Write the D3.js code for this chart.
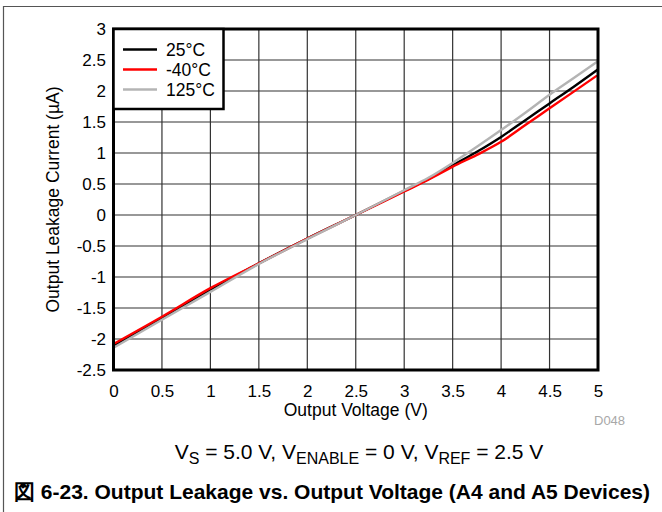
<!DOCTYPE html>
<html>
<head>
<meta charset="utf-8">
<script src="https://cdn.jsdelivr.net/npm/d3@7"></script>
<style>
  body { margin: 0; background: #fff; }
  svg { display: block; font-family: "Liberation Sans", Arial, sans-serif; }
</style>
</head>
<body>
<svg id="chart" width="662" height="512"></svg>
<script>
// Output voltage sweep (V)
const voltage = [0, 0.5, 1.0, 1.5, 2.0, 2.5, 3.0, 3.25, 3.5, 3.75, 4.0, 4.25, 4.5, 4.75, 5.0];
// Output leakage current (µA) per temperature
const leak25 = [-2.11, -1.66, -1.21, -0.78, -0.38, 0.0, 0.39, 0.58, 0.80, 1.02, 1.26, 1.53, 1.80, 2.07, 2.35];
const leakM40 = [-2.08, -1.64, -1.18, -0.78, -0.38, 0.0, 0.38, 0.57, 0.78, 0.97, 1.18, 1.45, 1.72, 1.99, 2.26];
const leak125 = [-2.14, -1.69, -1.24, -0.79, -0.39, 0.0, 0.40, 0.60, 0.84, 1.10, 1.37, 1.65, 1.94, 2.21, 2.48];

const xTicks = [0, 0.5, 1, 1.5, 2, 2.5, 3, 3.5, 4, 4.5, 5];
const yTicks = [-2.5, -2, -1.5, -1, -0.5, 0, 0.5, 1, 1.5, 2, 2.5, 3];

const series = [
  { name: "25°C", values: leak25, color: "#000000" },
  { name: "-40°C", values: leakM40, color: "#ff0000" },
  { name: "125°C", values: leak125, color: "#b4b4b4" }
];
const drawOrder = [0, 1, 2];

const svg = d3.select("#chart");
const plotL = 113.5, plotR = 598, plotT = 29, plotB = 370;

const x = d3.scaleLinear().domain([0, 5]).range([plotL, plotR]);
const y = d3.scaleLinear().domain([-2.5, 3]).range([plotB, plotT]);

// page frame
svg.append("line").attr("x1", 3).attr("x2", 662).attr("y1", 6.5).attr("y2", 6.5)
  .attr("stroke", "#555").attr("stroke-width", 1.2);
svg.append("line").attr("x1", 3.5).attr("x2", 3.5).attr("y1", 6).attr("y2", 512)
  .attr("stroke", "#555").attr("stroke-width", 1.2);

// grid
const grid = svg.append("g");
grid.selectAll("line.v").data(xTicks.slice(1, -1)).join("line")
  .attr("x1", d => x(d)).attr("x2", d => x(d)).attr("y1", plotT).attr("y2", plotB)
  .attr("stroke", "#333").attr("stroke-width", 1.2);
grid.selectAll("line.h").data(yTicks.slice(1, -1)).join("line")
  .attr("x1", plotL).attr("x2", plotR).attr("y1", d => y(d)).attr("y2", d => y(d))
  .attr("stroke", "#333").attr("stroke-width", 1.2);

// axes (labels only; frame drawn separately)
const fmt = d => String(d);
const xAxis = d3.axisBottom(x).tickValues(xTicks).tickSize(0).tickPadding(14.5).tickFormat(fmt);
const gx = svg.append("g").attr("transform", `translate(0,${plotB})`).call(xAxis);
gx.select(".domain").remove();
gx.selectAll("text").attr("font-size", 17).attr("fill", "#000")
  .attr("font-family", "Liberation Sans, Arial, sans-serif");

const yAxis = d3.axisLeft(y).tickValues(yTicks).tickSize(0).tickPadding(7.5).tickFormat(fmt);
const gy = svg.append("g").attr("transform", `translate(${plotL},0)`).call(yAxis);
gy.select(".domain").remove();
gy.selectAll("text").attr("font-size", 17).attr("fill", "#000")
  .attr("font-family", "Liberation Sans, Arial, sans-serif");

// curves
const line = d3.line().x((d, i) => x(voltage[i])).y(d => y(d)).curve(d3.curveMonotoneX);
drawOrder.forEach(k => {
  svg.append("path").datum(series[k].values)
    .attr("d", line).attr("fill", "none")
    .attr("stroke", series[k].color).attr("stroke-width", 2.4);
});

// plot frame
svg.append("rect").attr("x", plotL).attr("y", plotT).attr("width", plotR - plotL).attr("height", plotB - plotT)
  .attr("fill", "none").attr("stroke", "#000").attr("stroke-width", 3);

// legend
const lg = svg.append("g");
lg.append("rect").attr("x", plotL).attr("y", plotT).attr("width", 110).attr("height", 80)
  .attr("fill", "#fff").attr("stroke", "#000").attr("stroke-width", 2.5);
series.forEach((s, i) => {
  const yy = plotT + 20.5 + i * 20;
  lg.append("line").attr("x1", 123).attr("x2", 157).attr("y1", yy).attr("y2", yy)
    .attr("stroke", s.color).attr("stroke-width", 2.6);
  lg.append("text").attr("x", 166).attr("y", yy + 6).attr("font-size", 17.5).text(s.name);
});

// axis titles
svg.append("text").attr("x", x(2.5)).attr("y", 416).attr("text-anchor", "middle")
  .attr("font-size", 17.5).text("Output Voltage (V)");
svg.append("text").attr("transform", `translate(59,${(plotT + plotB) / 2}) rotate(-90)`)
  .attr("text-anchor", "middle").attr("font-size", 17.5).text("Output Leakage Current (µA)");

svg.append("text").attr("x", 594).attr("y", 425).attr("font-size", 13).attr("fill", "#a8a8a8").text("D048");

// conditions line
const cond = svg.append("text").attr("x", 359).attr("y", 459).attr("text-anchor", "middle").attr("font-size", 21);
const parts = [["V", 0], ["S", 1], [" = 5.0 V, V", 0], ["ENABLE", 1], [" = 0 V, V", 0], ["REF", 1], [" = 2.5 V", 0]];
parts.forEach(([t, sub], i) => {
  const ts = cond.append("tspan").text(t);
  if (sub) ts.attr("font-size", 16).attr("dy", 5);
  else if (i > 0) ts.attr("dy", -5);
});

// caption
svg.append("text").attr("x", 14).attr("y", 499).attr("font-size", 21).attr("font-weight", "bold")
  .text("図 6-23. Output Leakage vs. Output Voltage (A4 and A5 Devices)");
</script>
</body>
</html>
